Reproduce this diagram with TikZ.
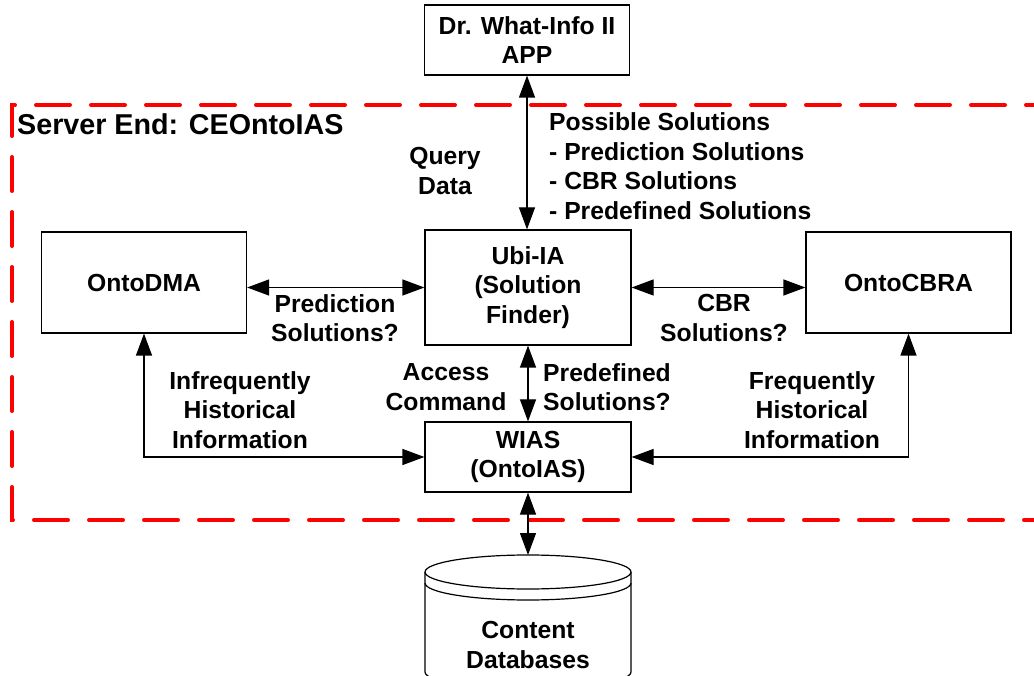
\documentclass[tikz,border=0pt]{standalone}
\usepackage{fontspec}
\setmainfont{Liberation Sans}
\usetikzlibrary{arrows.meta}
\begin{document}
\begin{tikzpicture}[x=1pt,y=1pt,
  box/.style={draw,line width=1.2pt,fill=white,inner sep=0pt,minimum width=205pt,align=center,font=\bfseries\fontsize{24.7}{29.5}\selectfont},
  lbl/.style={inner sep=0pt,align=center,font=\bfseries\fontsize{24.7}{29.5}\selectfont},
  dbl/.style={line width=1.2pt,{Triangle[length=22pt,width=16pt]}-{Triangle[length=22pt,width=16pt]}},
  frame/.style={draw=red,line width=4pt,dash pattern=on 34pt off 21pt,line cap=round}]
\fill[white] (0,0) rectangle (1034,-676);
\useasboundingbox (0,0) rectangle (1034,-676);
% dashed server frame
\draw[frame] (1060,-105) -- (12,-105) -- (12,-520) -- (1060,-520);
% boxes
\node[box,minimum height=70pt] (app) at (527,-40) {Dr. What-Info II\\APP};
\node[box,minimum width=206pt,minimum height=115pt] (ubi) at (528,-287.5) {Ubi-IA\\(Solution\\Finder)};
\node[box,minimum height=101pt] (dma) at (144,-282.5) {OntoDMA};
\node[box,minimum height=101pt] (cbra) at (908.5,-282.5) {OntoCBRA};
\node[box,minimum width=206pt,minimum height=70pt] (wias) at (528,-457) {WIAS\\(OntoIAS)};
% database cylinder
\draw[line width=1.2pt,fill=white] (425,-572) -- (425,-672) arc[start angle=180,end angle=360,x radius=103,y radius=17] -- (631,-572);
\draw[line width=1.2pt] (528,-572) ellipse[x radius=103,y radius=17];
\draw[line width=1.2pt] (425,-583) arc[start angle=180,end angle=360,x radius=103,y radius=17];
\coordinate (dbtop) at (528,-555);
\node[lbl] (db) at (528,-645) {Content\\Databases};
% labels
\node[lbl,anchor=base west,font=\bfseries\fontsize{28.7}{32}\selectfont] (server) at (17,-135) {Server End: CEOntoIAS};
\node[lbl] (query) at (445,-171) {Query\\Data};
\node[lbl,anchor=west,align=left] (poss) at (549,-166) {Possible Solutions\\- Prediction Solutions\\- CBR Solutions\\- Predefined Solutions};
\node[lbl] (predq) at (335,-318) {Prediction\\Solutions?};
\node[lbl] (cbrq) at (724,-318) {CBR\\Solutions?};
\node[lbl] (access) at (446,-387) {Access\\Command};
\node[lbl] (predef) at (607,-387) {Predefined\\Solutions?};
\node[lbl] (infreq) at (240,-410) {Infrequently\\Historical\\Information};
\node[lbl] (freq) at (812,-410) {Frequently\\Historical\\Information};
% connectors
\draw[dbl] (app.south) -- (app.south |- ubi.north);
\draw[dbl] (ubi.west -| dma.east) -- (ubi.west);
\draw[dbl] (ubi.east) -- (ubi.east -| cbra.west);
\draw[dbl] (ubi.south) -- (wias.north);
\draw[dbl] (dma.south) |- (wias.west);
\draw[dbl] (cbra.south) |- (wias.east);
\draw[dbl] (wias.south) -- (dbtop);
\end{tikzpicture}
\end{document}
